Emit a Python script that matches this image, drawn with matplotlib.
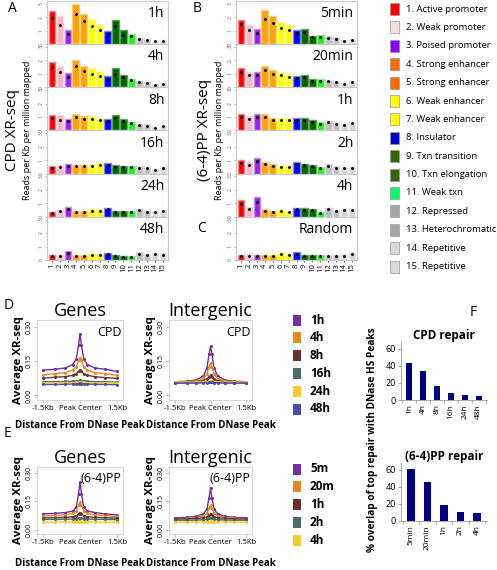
import numpy as np
import matplotlib
matplotlib.use("Agg")
import matplotlib.pyplot as plt
from matplotlib.patches import Rectangle

plt.rcParams['font.family'] = ['Open Sans', 'DejaVu Sans']

W, H = 497, 570

# ---------------- data ----------------
states = list(range(1, 16))
state_names = ['1. Active promoter', '2. Weak promoter', '3. Poised promoter',
               '4. Strong enhancer', '5. Strong enhancer', '6. Weak enhancer',
               '7. Weak enhancer', '8. Insulator', '9. Txn transition',
               '10. Txn elongation', '11. Weak txn', '12. Repressed',
               '13. Heterochromatic', '14. Repetitive', '15. Repetitive']

cpd_times = ['1h', '4h', '8h', '16h', '24h', '48h']
cpd_bars = [
    [2.45, 2.07, 1.07, 2.95, 2.27, 1.90, 1.45, 1.00, 1.82, 1.05, 0.72, 0.45, 0.40, 0.27, 0.32],
    [1.90, 1.57, 1.07, 2.00, 1.55, 1.40, 1.20, 0.82, 1.40, 0.90, 0.65, 0.45, 0.37, 0.25, 0.30],
    [1.12, 1.12, 0.87, 1.25, 1.07, 1.07, 0.95, 0.82, 1.12, 0.87, 0.65, 0.50, 0.45, 0.25, 0.35],
    [0.55, 0.62, 0.72, 0.67, 0.67, 0.70, 0.77, 0.80, 0.62, 0.57, 0.57, 0.55, 0.50, 0.37, 0.55],
    [0.37, 0.50, 0.70, 0.42, 0.42, 0.55, 0.55, 0.67, 0.45, 0.40, 0.45, 0.57, 0.47, 0.42, 0.52],
    [0.40, 0.40, 0.67, 0.40, 0.35, 0.50, 0.42, 0.52, 0.37, 0.27, 0.30, 0.57, 0.42, 0.52, 0.50],
]
cpd_dots = [
    [1.95, 1.45, 0.78, 2.27, 1.70, 1.33, 1.07, 0.78, 1.37, 0.70, 0.57, 0.35, 0.30, 0.22, 0.25],
    [1.50, 1.12, 0.75, 1.57, 1.20, 1.00, 0.87, 0.65, 1.00, 0.75, 0.55, 0.37, 0.30, 0.20, 0.25],
    [0.92, 0.80, 0.67, 1.00, 0.82, 0.82, 0.75, 0.67, 0.92, 0.70, 0.55, 0.42, 0.35, 0.20, 0.30],
    [0.45, 0.50, 0.60, 0.55, 0.55, 0.58, 0.62, 0.65, 0.50, 0.47, 0.47, 0.45, 0.40, 0.30, 0.45],
    [0.30, 0.40, 0.55, 0.35, 0.35, 0.45, 0.45, 0.55, 0.37, 0.33, 0.37, 0.47, 0.38, 0.35, 0.42],
    [0.32, 0.32, 0.55, 0.32, 0.28, 0.40, 0.35, 0.43, 0.30, 0.22, 0.25, 0.47, 0.35, 0.42, 0.40],
]

pp_times = ['5min', '20min', '1h', '2h', '4h', 'Random']
pp_bars = [
    [1.82, 1.45, 1.15, 2.50, 2.07, 1.62, 1.45, 1.07, 1.15, 0.62, 0.65, 0.57, 0.50, 0.32, 0.37],
    [1.42, 1.15, 1.15, 1.57, 1.27, 1.15, 1.02, 0.82, 0.92, 0.60, 0.60, 0.55, 0.45, 0.30, 0.45],
    [1.20, 1.07, 1.20, 1.22, 0.95, 0.95, 0.95, 0.92, 0.92, 0.75, 0.60, 0.72, 0.52, 0.45, 0.62],
    [1.00, 0.85, 1.15, 0.85, 0.70, 0.60, 0.62, 0.85, 0.75, 0.65, 0.50, 0.70, 0.55, 0.50, 0.55],
    [1.25, 0.75, 1.45, 0.57, 0.45, 0.57, 0.45, 0.67, 0.62, 0.57, 0.37, 0.67, 0.47, 0.57, 0.57],
    [0.40, 0.42, 0.40, 0.40, 0.40, 0.57, 0.45, 0.57, 0.40, 0.35, 0.35, 0.37, 0.35, 0.42, 0.57],
]
pp_dots = [
    [1.50, 1.07, 0.82, 1.90, 1.55, 1.20, 1.02, 0.85, 0.90, 0.50, 0.55, 0.45, 0.40, 0.27, 0.30],
    [1.15, 0.92, 0.90, 1.25, 1.00, 0.90, 0.80, 0.70, 0.75, 0.50, 0.50, 0.45, 0.37, 0.25, 0.37],
    [1.00, 0.85, 1.00, 1.00, 0.80, 0.80, 0.80, 0.78, 0.78, 0.62, 0.50, 0.60, 0.45, 0.38, 0.52],
    [0.82, 0.65, 0.95, 0.70, 0.55, 0.50, 0.50, 0.70, 0.65, 0.55, 0.40, 0.60, 0.45, 0.42, 0.45],
    [0.95, 0.55, 1.10, 0.45, 0.37, 0.45, 0.37, 0.55, 0.50, 0.47, 0.30, 0.55, 0.40, 0.47, 0.47],
    [0.30, 0.32, 0.30, 0.30, 0.30, 0.42, 0.35, 0.45, 0.30, 0.27, 0.27, 0.30, 0.27, 0.32, 0.45],
]

# profile around DNase peaks (bp from peak centre)
prof_x = [-1500, -1000, -600, -300, -150, -60, 0, 60, 150, 300, 600, 1000, 1500]
cpd_genes = [
    [0.110, 0.115, 0.120, 0.135, 0.160, 0.220, 0.270, 0.220, 0.160, 0.135, 0.120, 0.115, 0.105],
    [0.090, 0.095, 0.100, 0.110, 0.125, 0.155, 0.165, 0.155, 0.125, 0.110, 0.100, 0.095, 0.088],
    [0.075, 0.080, 0.082, 0.088, 0.095, 0.105, 0.110, 0.105, 0.095, 0.088, 0.082, 0.078, 0.075],
    [0.060, 0.060, 0.061, 0.062, 0.063, 0.065, 0.066, 0.065, 0.063, 0.062, 0.060, 0.060, 0.058],
    [0.055, 0.055, 0.056, 0.056, 0.057, 0.058, 0.058, 0.058, 0.057, 0.056, 0.055, 0.055, 0.054],
    [0.048, 0.048, 0.049, 0.050, 0.050, 0.052, 0.055, 0.052, 0.050, 0.050, 0.049, 0.048, 0.047],
]
cpd_inter = [
    [0.060, 0.062, 0.068, 0.085, 0.120, 0.180, 0.215, 0.180, 0.120, 0.085, 0.068, 0.062, 0.060],
    [0.058, 0.060, 0.064, 0.075, 0.095, 0.125, 0.140, 0.125, 0.095, 0.075, 0.064, 0.060, 0.058],
    [0.056, 0.057, 0.060, 0.065, 0.072, 0.082, 0.088, 0.082, 0.072, 0.065, 0.060, 0.057, 0.056],
    [0.055, 0.055, 0.056, 0.058, 0.060, 0.063, 0.065, 0.063, 0.060, 0.058, 0.056, 0.055, 0.055],
    [0.058, 0.058, 0.058, 0.059, 0.060, 0.061, 0.062, 0.061, 0.060, 0.059, 0.058, 0.058, 0.058],
    [0.054, 0.054, 0.054, 0.055, 0.056, 0.057, 0.058, 0.057, 0.056, 0.055, 0.054, 0.054, 0.054],
]
pp_prof_times = ['5m', '20m', '1h', '2h', '4h']
pp_genes = [
    [0.085, 0.088, 0.092, 0.100, 0.120, 0.190, 0.250, 0.190, 0.120, 0.100, 0.092, 0.085, 0.080],
    [0.074, 0.077, 0.080, 0.088, 0.100, 0.130, 0.145, 0.130, 0.100, 0.088, 0.080, 0.076, 0.072],
    [0.064, 0.065, 0.067, 0.070, 0.075, 0.085, 0.090, 0.085, 0.075, 0.070, 0.067, 0.065, 0.063],
    [0.056, 0.056, 0.057, 0.058, 0.060, 0.063, 0.065, 0.063, 0.060, 0.058, 0.057, 0.056, 0.055],
    [0.042, 0.042, 0.043, 0.043, 0.044, 0.045, 0.046, 0.045, 0.044, 0.043, 0.043, 0.042, 0.042],
]
pp_inter = [
    [0.065, 0.067, 0.072, 0.085, 0.110, 0.170, 0.220, 0.170, 0.110, 0.085, 0.072, 0.067, 0.065],
    [0.060, 0.062, 0.066, 0.075, 0.090, 0.115, 0.130, 0.115, 0.090, 0.075, 0.066, 0.062, 0.060],
    [0.058, 0.059, 0.061, 0.065, 0.070, 0.080, 0.085, 0.080, 0.070, 0.065, 0.061, 0.059, 0.058],
    [0.052, 0.052, 0.053, 0.055, 0.058, 0.062, 0.065, 0.062, 0.058, 0.055, 0.053, 0.052, 0.052],
    [0.042, 0.042, 0.043, 0.043, 0.044, 0.045, 0.046, 0.045, 0.044, 0.043, 0.043, 0.042, 0.042],
]

overlap_cpd_labels = ['1h', '4h', '8h', '16h', '24h', '48h']
overlap_cpd = [43, 34, 16, 8, 6, 4.5]
overlap_pp_labels = ['5min', '20min', '1h', '2h', '4h']
overlap_pp = [61, 46, 19, 10, 9.5]

# ---------------- styles ----------------
bar_colors = ['#ff0000', '#f7b6c2', '#9a22e6', '#ffa200', '#ffa200', '#ffff00', '#ffff00',
              '#0000ff', '#006400', '#006400', '#22ee22', '#bdbdbd', '#bdbdbd', '#d4d4d4', '#d4d4d4']
edge_colors = ['#ff8080', '#f9d6dc', '#c58cf0', '#ffcf80', '#ffcf80', '#ffff99', '#ffff99',
               '#8080ff', '#60a060', '#60a060', '#90f090', '#dedede', '#dedede', '#e8e8e8', '#e8e8e8']
legend_colors = ['#ff0000', '#f2dcdc', '#8b00ff', '#ff6a00', '#ff6a00', '#ffff00', '#ffff00',
                 '#0000cc', '#336600', '#336600', '#00ff66', '#a6a6a6', '#a6a6a6', '#d9d9d9', '#d9d9d9']
cpd_line_colors = ['#7030a0', '#e08a22', '#6b3030', '#4a6b6b', '#f5cd2a', '#4b4ba8']
pp_line_colors = ['#7030a0', '#e08a22', '#6b3030', '#4a6b6b', '#f5cd2a']

fig = plt.figure(figsize=(W / 100, H / 100), dpi=100)


def px(l, t, r, b):
    return [l / W, 1 - b / H, (r - l) / W, (b - t) / H]


def ftext(x, y, s, **kw):
    fig.text(x / W, 1 - y / H, s, **kw)


def bar_panel(rect, vals, dots, title, last):
    ax = fig.add_axes(rect)
    ax.bar(states, vals, width=0.8, color=bar_colors, edgecolor=edge_colors, linewidth=1.0)
    ax.scatter(states, dots, s=1.2, color='black', zorder=3)
    ax.set_xlim(0.4, 15.6)
    ax.set_ylim(0, 3.2)
    ax.set_yticks([0, 1, 2, 3])
    ax.set_yticklabels(['0', '1', '2', '3'], rotation=90, fontsize=3.5, color='#555555', va='center')
    ax.tick_params(axis='y', length=1.5, width=0.4, pad=1, colors='#888888', labelcolor='#555555')
    ax.set_xticks(states)
    if last:
        ax.set_xticklabels([str(s) for s in states], rotation=90, fontsize=5.5)
        ax.tick_params(axis='x', length=1.5, width=0.4, pad=1)
    else:
        ax.set_xticklabels([])
        ax.tick_params(axis='x', length=1, width=0.4)
    for sp in ax.spines.values():
        sp.set_color('#c8c8c8')
        sp.set_linewidth(0.8)
    ax.text(0.97, 0.88, title, transform=ax.transAxes, ha='right', va='top', fontsize=10)
    return ax


# ---------------- A / B bars ----------------
top, bottom = 1, 260
ph = (bottom - top) / 6
for i in range(6):
    t = top + i * ph
    bar_panel(px(47, t, 168, t + ph), cpd_bars[i], cpd_dots[i], cpd_times[i], i == 5)
    bar_panel(px(236, t, 357, t + ph), pp_bars[i], pp_dots[i], pp_times[i], i == 5)

ftext(8, 12, 'A', fontsize=10)
ftext(193, 12, 'B', fontsize=10)
ftext(197, 232, 'C', fontsize=10)
ftext(13, 130, 'CPD XR-seq', rotation=90, fontsize=11, ha='center', va='center')
ftext(28, 130, 'Reads per Kb per million mapped', rotation=90, fontsize=6.5, ha='center', va='center')
ftext(204, 130, '(6-4)PP XR-seq', rotation=90, fontsize=11, ha='center', va='center')
ftext(219, 130, 'Reads per Kb per million mapped', rotation=90, fontsize=6.5, ha='center', va='center')

# chromatin state legend
for i, name in enumerate(state_names):
    y = 9 + i * 18.4
    fig.patches.append(Rectangle((390 / W, 1 - (y + 6) / H), 9 / W, 12 / H,
                                 transform=fig.transFigure, facecolor=legend_colors[i],
                                 edgecolor='#999999', linewidth=0.5))
    ftext(406, y, name, fontsize=6.8, va='center')


# ---------------- D / E profiles ----------------
def profile_panel(rect, curves, colors, title, tag, xlpad):
    ax = fig.add_axes(rect)
    for ys, c in zip(curves, colors):
        ax.plot(prof_x, ys, color=c, linewidth=1.0)
        ax.plot(prof_x, ys, 'o', color=c, markersize=1.2)
    ax.set_xlim(-1750, 1750)
    ax.set_ylim(-0.02, 0.33)
    ax.set_yticks([0.0, 0.15, 0.30])
    ax.set_yticklabels(['0.00', '0.15', '0.30'], rotation=90, fontsize=5, color='#555555', va='center')
    ax.set_xticks([-1500, 0, 1500])
    ax.set_xticklabels(['-1.5Kb', 'Peak Center', '1.5Kb'], fontsize=5.5)
    ax.tick_params(length=2, width=0.4, pad=1.5, colors='#888888', labelcolor='black')
    for sp in ax.spines.values():
        sp.set_color('#d0d0d0')
        sp.set_linewidth(0.6)
    ax.set_title(title, fontsize=13, pad=2)
    ax.set_ylabel('Average XR-seq', fontsize=8.2, fontweight='bold', labelpad=1)
    ax.set_xlabel('Distance From DNase Peak', fontsize=7, fontweight='bold', labelpad=xlpad)
    ax.text(0.98, 0.92, tag, transform=ax.transAxes, ha='right', va='top', fontsize=9)
    return ax


profile_panel(px(37, 320, 123, 400), cpd_genes, cpd_line_colors, 'Genes', 'CPD', 6)
profile_panel(px(169, 320, 252, 400), cpd_inter, cpd_line_colors, 'Intergenic', 'CPD', 6)
profile_panel(px(37, 467, 123, 534), pp_genes, pp_line_colors, 'Genes', '(6-4)PP', 9)
profile_panel(px(169, 467, 252, 534), pp_inter, pp_line_colors, 'Intergenic', '(6-4)PP', 9)

ftext(4, 309, 'D', fontsize=10)
ftext(4, 437, 'E', fontsize=10)

for i, lab in enumerate(cpd_times):
    y = 320 + i * 17.8
    fig.patches.append(Rectangle((293 / W, 1 - (y + 5.5) / H), 8 / W, 11 / H,
                                 transform=fig.transFigure, facecolor=cpd_line_colors[i]))
    ftext(310, y, lab, fontsize=8.5, fontweight='bold', va='center')
for i, lab in enumerate(pp_prof_times):
    y = 469 + i * 17.8
    fig.patches.append(Rectangle((293 / W, 1 - (y + 5.5) / H), 8 / W, 11 / H,
                                 transform=fig.transFigure, facecolor=pp_line_colors[i]))
    ftext(310, y, lab, fontsize=8.5, fontweight='bold', va='center')


# ---------------- F overlap ----------------
def overlap_panel(rect, labels, vals, title):
    ax = fig.add_axes(rect)
    x = np.arange(len(vals))
    ax.bar(x, vals, width=0.45, color='#000080')
    ax.set_xlim(-0.6, len(vals) - 0.4)
    ax.set_ylim(0, 68)
    ax.set_yticks([0, 20, 40, 60])
    ax.tick_params(axis='y', labelsize=6.5, length=2, width=0.5, pad=1.5, colors='#888888', labelcolor='black')
    ax.set_xticks(x)
    ax.set_xticklabels(labels, rotation=90, fontsize=6)
    ax.tick_params(axis='x', length=0, pad=3)
    ax.set_xticks(np.arange(len(vals) + 1) - 0.5, minor=True)
    ax.tick_params(axis='x', which='minor', length=2, width=0.5, colors='#888888')
    for s in ['top', 'right']:
        ax.spines[s].set_visible(False)
    for s in ['left', 'bottom']:
        ax.spines[s].set_color('#999999')
        ax.spines[s].set_linewidth(0.6)
    ax.set_title(title, fontsize=8.5, fontweight='bold', pad=1)
    return ax


overlap_panel(px(401, 342, 487, 400), overlap_cpd_labels, overlap_cpd, 'CPD repair')
overlap_panel(px(401, 463, 487, 521), overlap_pp_labels, overlap_pp, '(6-4)PP repair')
ftext(470, 316, 'F', fontsize=10)
ftext(372, 440, '% overlap of top repair with DNase HS Peaks', rotation=90,
      fontsize=7.3, fontweight='bold', ha='center', va='center')

fig.savefig('out.png', dpi=100)
